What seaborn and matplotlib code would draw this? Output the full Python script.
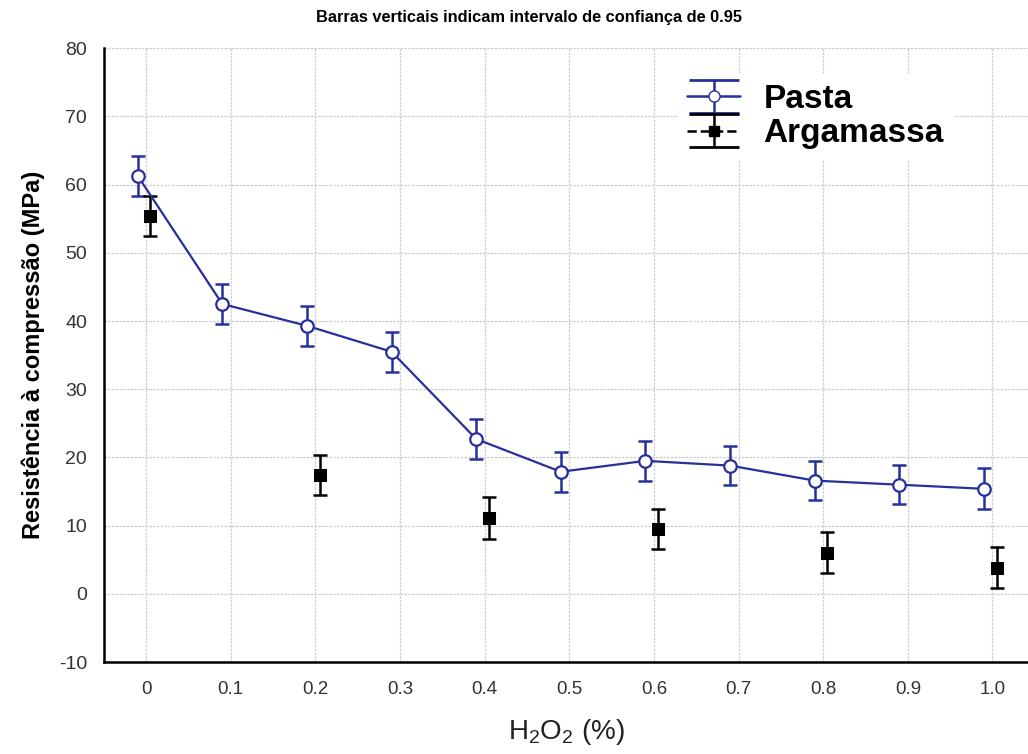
import numpy as np
import pandas as pd
import matplotlib
matplotlib.use("Agg")
import matplotlib.pyplot as plt
import seaborn as sns

# ---- data ----
h2o2 = [0.0, 0.1, 0.2, 0.3, 0.4, 0.5, 0.6, 0.7, 0.8, 0.9, 1.0]
pasta_mean = [61.3, 42.5, 39.3, 35.5, 22.7, 17.9, 19.5, 18.8, 16.6, 16.0, 15.4]
pasta_ci = [2.9, 2.9, 2.9, 2.9, 2.9, 2.9, 2.9, 2.9, 2.9, 2.9, 3.0]

arg_x = [0.0, 0.2, 0.4, 0.6, 0.8, 1.0]
arg_mean = [55.4, 17.4, 11.1, 9.5, 6.0, 3.8]
arg_ci = [2.9, 2.9, 3.1, 3.0, 3.0, 3.0]

xticklabels = ["0", "0.1", "0.2", "0.3", "0.4", "0.5", "0.6", "0.7", "0.8", "0.9", "1.0"]
yticks = [-10, 0, 10, 20, 30, 40, 50, 60, 70, 80]

title = "Barras verticais indicam intervalo de confiança de 0.95"
ylabel = "Resistência à compressão (MPa)"
xlabel = r"H$_2$O$_2$ (%)"

blue = "#27309a"
sns.set_theme(style="white")
plt.rcParams["font.family"] = ["Liberation Sans", "DejaVu Sans"]
plt.rcParams["mathtext.fontset"] = "custom"
plt.rcParams["mathtext.rm"] = "Liberation Sans"
plt.rcParams["axes.unicode_minus"] = False
plt.rcParams["text.color"] = "black"

fig = plt.figure(figsize=(10.28, 7.54), dpi=100)
ax = fig.add_axes([0.101, 0.122, 0.899, 0.814])

pasta_df = pd.DataFrame({"x": np.array(h2o2) - 0.01, "y": pasta_mean, "ci": pasta_ci})
arg_df = pd.DataFrame({"x": np.array(arg_x) + 0.005, "y": arg_mean, "ci": arg_ci})

# error bars
ax.errorbar(pasta_df["x"], pasta_df["y"], yerr=pasta_df["ci"], fmt="none",
            ecolor=blue, elinewidth=1.8, capsize=5, capthick=1.8, zorder=3)
ax.errorbar(arg_df["x"], arg_df["y"], yerr=arg_df["ci"], fmt="none",
            ecolor="black", elinewidth=1.8, capsize=5, capthick=1.8, zorder=3)

# line + markers via seaborn
sns.lineplot(data=pasta_df, x="x", y="y", ax=ax, color=blue, linewidth=1.6,
             marker="o", markersize=9, markerfacecolor="white",
             markeredgecolor=blue, markeredgewidth=1.6, zorder=4, legend=False)
sns.scatterplot(data=arg_df, x="x", y="y", ax=ax, color="black", marker="s",
                s=85, edgecolor="black", zorder=4, legend=False)

ax.set_xlim(-0.05, 1.042)
ax.set_ylim(-10, 80)
ax.set_xticks(h2o2)
ax.set_xticklabels(xticklabels)
ax.set_yticks(yticks)
ax.tick_params(axis="both", direction="in", length=5, width=1.2, colors="black",
               labelcolor="#333333", labelsize=14, pad=14)
ax.tick_params(axis="y", pad=12)
ax.tick_params(axis="x", labelsize=13.5)
ax.grid(True, color="#cccccc", linewidth=0.9, linestyle=(0, (2, 1)))
ax.set_axisbelow(True)
for side in ["left", "bottom"]:
    ax.spines[side].set_linewidth(1.8)
    ax.spines[side].set_color("black")
for side in ["top", "right"]:
    ax.spines[side].set_visible(False)

ax.set_xlabel(xlabel, fontsize=20, labelpad=13, color="#222222")
ax.set_ylabel(ylabel, fontsize=17, fontweight="bold", labelpad=10, color="black")
fig.text(0.515, 0.977, title, ha="center", va="center", fontsize=11.8,
         fontweight="bold", color="black")

# legend proxies
h1 = ax.errorbar([np.nan], [np.nan], yerr=[1], fmt="-o", color=blue,
                 markerfacecolor="white", markeredgecolor=blue, markersize=8,
                 capsize=18, capthick=2.0, elinewidth=1.8, linewidth=1.8)
h2 = ax.errorbar([np.nan], [np.nan], yerr=[1], fmt="--s", color="black",
                 markersize=7, capsize=18, capthick=2.0, elinewidth=1.8, linewidth=1.8)
leg = ax.legend([h1, h2], ["Pasta", "Argamassa"], loc="upper left",
                bbox_to_anchor=(0.602, 0.985), frameon=True, facecolor="white",
                edgecolor="white", framealpha=1.0, handlelength=1.6,
                labelspacing=0.1, handletextpad=0.7, borderpad=0.3,
                prop={"size": 24, "weight": "bold"}, labelcolor="black")

fig.savefig("out.png", dpi=100)
